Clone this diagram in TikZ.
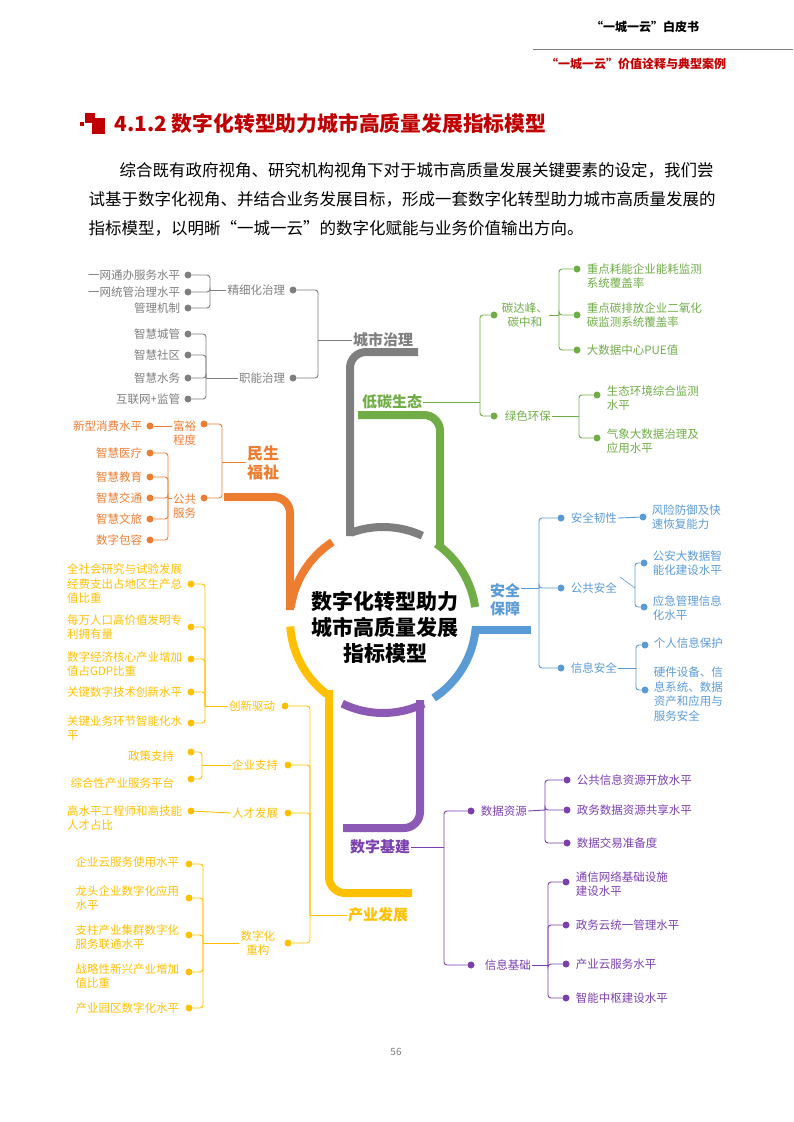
\documentclass[tikz,border=0pt]{standalone}
\usepackage{fontspec}
\setmainfont{Noto Sans CJK SC}
\usepackage{xcolor}
\usetikzlibrary{positioning}
\definecolor{cgray}{HTML}{7F7F7F}
\definecolor{cgreen}{HTML}{70AD47}
\definecolor{cblue}{HTML}{5B9BD5}
\definecolor{cpurple}{HTML}{7B3FAE}
\definecolor{cpurplearc}{HTML}{8C5AB4}
\definecolor{cyellow}{HTML}{FFC000}
\definecolor{corange}{HTML}{ED7D31}
\definecolor{cred}{HTML}{C00000}
\newcommand\leaffont{\fontsize{11.5}{14.5}\selectfont}
\newcommand\topicfont{\fontsize{15}{18}\selectfont\bfseries}
\tikzset{
	dot/.style={circle, fill, inner sep=0pt, minimum size=7pt},
	leaf/.style={inner sep=1pt, font=\leaffont, align=left},
	topic/.style={inner sep=1pt, font=\topicfont, align=center},
	branch/.style={line width=0.9pt, rounded corners=3pt},
	trunk/.style={line width=8pt},
}

\begin{document}
\begin{tikzpicture}[x=1pt, y=-1pt]
	\useasboundingbox (0,0) rectangle (793,1122);

	% header
	\node[font=\fontsize{12}{14}\selectfont\bfseries] (book) at (645,27) {“一城一云”白皮书};
	\coordinate (rulel) at (533,49);
	\coordinate (ruler) at (793,49);
	\draw[cgray, line width=1pt] (rulel) -- (ruler);
	\node[font=\fontsize{12}{14}\selectfont\bfseries, text=cred] (chap) at (636,64) {“一城一云”价值诠释与典型案例};

	% title
	\fill[cred] (92,118) rectangle (105,134);
	\fill[cred] (85,113) rectangle (95,123);
	\fill[cred] (80,122) rectangle (84,126);
	\node[font=\fontsize{20.8}{24}\selectfont\bfseries, text=cred, anchor=west] (title) at (111,124) {4.1.2 数字化转型助力城市高质量发展指标模型};

	\node[font=\fontsize{16.5}{20}\selectfont, anchor=west] (par1) at (116,170) {综合既有政府视角、研究机构视角下对于城市高质量发展关键要素的设定，我们尝};
	\node[font=\fontsize{16.5}{20}\selectfont, anchor=west] (par2) at (85,199) {试基于数字化视角、并结合业务发展目标，形成一套数字化转型助力城市高质量发展的};
	\node[font=\fontsize{16.5}{20}\selectfont, anchor=west] (par3) at (85,228) {指标模型，以明晰“一城一云”的数字化赋能与业务价值输出方向。};

	% hub and trunks
	\node[font=\fontsize{21}{26}\selectfont\bfseries, align=center] (hub) at (385,627) {数字化转型助力\\城市高质量发展\\指标模型};
	\coordinate (c) at (383,620);
	\draw[trunk, cgray] (c) ++(250:93) arc[start angle=250, end angle=295, radius=93];
	\draw[trunk, cgray, rounded corners=16pt] (350,536) -- (350,352) -- (418,352);
	\draw[trunk, cgreen] (c) ++(305:93) arc[start angle=305, end angle=352, radius=93];
	\draw[trunk, cgreen, rounded corners=16pt] (440,548) -- (440,415) -- (358,415);
	\draw[trunk, cblue] (c) ++(5:93) arc[start angle=5, end angle=57, radius=93];
	\draw[trunk, cblue] (472,630) -- (531,630);
	\draw[trunk, cpurplearc] (c) ++(64:93) arc[start angle=64, end angle=116, radius=93];
	\draw[trunk, cpurplearc, rounded corners=16pt] (420,700) -- (420,828) -- (343,828);
	\draw[trunk, cyellow] (c) ++(127:93) arc[start angle=127, end angle=176, radius=93];
	\draw[trunk, cyellow, rounded corners=16pt] (329,690) -- (329,893) -- (412,893);
	\draw[trunk, corange] (c) ++(188:93) arc[start angle=188, end angle=237, radius=93];
	\draw[trunk, corange, rounded corners=16pt] (290,610) -- (290,497) -- (224,497);

	% 城市治理
	\begin{scope}[cgray, text=cgray]
		\node[topic] (zl) at (383,340) {城市治理};
		\coordinate (zlb) at (318,340);
		\draw[branch] (zl.west) -- (zlb);
		\node[dot] (jx) at (293,290) {};
		\node[leaf, left=3pt of jx] (jxt) {精细化治理};
		\node[dot] (zn) at (293,378) {};
		\node[leaf, left=3pt of zn] (znt) {职能治理};
		\draw[branch] (zlb) |- (jx);
		\draw[branch] (zlb) |- (zn);
		\coordinate (jxb) at (210,290);
		\draw[branch] (jxt.west) -- (jxb);
		\foreach \y/\n/\t in {275/jx1/一网通办服务水平, 292/jx2/一网统管治理水平, 308/jx3/管理机制} {
			\node[dot] (\n) at (188,\y) {};
			\node[leaf, left=3pt of \n] {\t};
			\draw[branch] (jxb) |- (\n);
		}
		\coordinate (znb) at (206,378);
		\draw[branch] (znt.west) -- (znb);
		\foreach \y/\n/\t in {334/zn1/智慧城管, 355/zn2/智慧社区, 378/zn3/智慧水务, 399/zn4/互联网+监管} {
			\node[dot] (\n) at (188,\y) {};
			\node[leaf, left=3pt of \n] {\t};
			\draw[branch] (znb) |- (\n);
		}
	\end{scope}

	% 民生福祉
	\begin{scope}[corange, text=corange]
		\node[topic, font=\fontsize{16}{19}\selectfont\bfseries] (ms) at (263,463) {民生\\福祉};
		\coordinate (msb) at (222,462);
		\draw[branch] (ms.west |- msb) -- (msb);
		\node[dot] (fy) at (204,424) {};
		\node[leaf, align=center, left=3pt of fy, yshift=-9pt] (fyt) {富裕\\程度};
		\node[dot] (gg) at (204,498) {};
		\node[leaf, align=center, left=3pt of gg, yshift=-8pt] (ggt) {公共\\服务};
		\draw[branch] (msb) |- (fy);
		\draw[branch] (msb) |- (gg);
		\node[dot] (fy1) at (150,426) {};
		\node[leaf, left=3pt of fy1] {新型消费水平};
		\draw[branch] (fyt.west |- fy1) -- (fy1);
		\coordinate (ggb) at (168,498);
		\draw[branch] (ggt.west |- gg) -- (ggb);
		\foreach \y/\n/\t in {453/gg1/智慧医疗, 477/gg2/智慧教育, 498/gg3/智慧交通, 519/gg4/智慧文旅, 540/gg5/数字包容} {
			\node[dot] (\n) at (150,\y) {};
			\node[leaf, left=3pt of \n] {\t};
			\draw[branch] (ggb) |- (\n);
		}
	\end{scope}

	% 低碳生态
	\begin{scope}[cgreen, text=cgreen]
		\node[topic] (dt) at (392,402) {低碳生态};
		\coordinate (dtb) at (480,402);
		\draw[branch] (dt.east) -- (dtb);
		\node[dot] (tf) at (494,315) {};
		\node[leaf, align=center, right=3pt of tf] (tft) {碳达峰、\\碳中和};
		\node[dot] (lb) at (494,416) {};
		\node[leaf, right=6pt of lb] (lbt) {绿色环保};
		\draw[branch] (dtb) |- (tf);
		\draw[branch] (dtb) |- (lb);
		\coordinate (tfb) at (559,315);
		\draw[branch] (tft.east) -- (tfb);
		\foreach \y/\s/\n/\t in {269/-7/tf1/{重点耗能企业能耗监测\\系统覆盖率}, 315/0/tf2/{重点碳排放企业二氧化\\碳监测系统覆盖率}, 350/0/tf3/大数据中心PUE值} {
			\node[dot] (\n) at (577,\y) {};
			\node[leaf, right=5pt of \n, yshift=\s pt] {\t};
			\draw[branch] (tfb) |- (\n);
		}
		\coordinate (lbb) at (579,416);
		\draw[branch] (lbt.east) -- (lbb);
		\foreach \y/\s/\n/\t in {395/-3/lb1/{生态环境综合监测\\水平}, 438/-3/lb2/{气象大数据治理及\\应用水平}} {
			\node[dot] (\n) at (597,\y) {};
			\node[leaf, right=5pt of \n, yshift=\s pt] {\t};
			\draw[branch] (lbb) |- (\n);
		}
	\end{scope}

	% 安全保障
	\begin{scope}[cblue, text=cblue]
		\node[topic] (aq) at (505,600) {安全\\保障};
		\coordinate (aqb) at (539,588);
		\draw[branch] (aq.east |- aqb) -- (aqb);
		\node[dot] (rx) at (561,518) {};
		\node[leaf, right=5pt of rx] (rxt) {安全韧性};
		\node[dot] (gs) at (561,588) {};
		\node[leaf, right=5pt of gs] (gst) {公共安全};
		\node[dot] (xa) at (561,668) {};
		\node[leaf, right=5pt of xa] (xat) {信息安全};
		\draw[branch] (aqb) |- (rx);
		\draw[branch] (aqb) |- (gs);
		\draw[branch] (aqb) |- (xa);
		\node[dot] (rx1) at (643,517) {};
		\node[leaf, right=4pt of rx1] {风险防御及快\\速恢复能力};
		\draw[branch] (rxt.east) -- (rx1);
		\coordinate (gsb) at (635,588);
		\coordinate (gstick) at (620,577);
		\draw[line width=0.6pt] (gstick) -- (gsb);
		\foreach \y/\s/\n/\t in {563/0/gs1/{公安大数据智\\能化建设水平}, 607/-1/gs2/{应急管理信息\\化水平}} {
			\node[dot] (\n) at (644,\y) {};
			\node[leaf, right=4pt of \n, yshift=\s pt] {\t};
			\draw[branch] (gsb) |- (\n);
		}
		\coordinate (xab) at (636,668);
		\draw[branch] (xat.east) -- (xab);
		\foreach \y/\s/\n/\t in {645/2/xa1/个人信息保护, 690/-4/xa2/{硬件设备、信\\息系统、数据\\资产和应用与\\服务安全}} {
			\node[dot] (\n) at (645,\y) {};
			\node[leaf, right=4pt of \n, yshift=\s pt] {\t};
			\draw[branch] (xab) |- (\n);
		}
	\end{scope}

	% 数字基建
	\begin{scope}[cpurple, text=cpurple]
		\node[topic] (sj) at (380,847) {数字基建};
		\coordinate (sjb) at (444,847);
		\draw[branch] (sj.east) -- (sjb);
		\node[dot] (zy) at (471,811) {};
		\node[leaf, right=5pt of zy] (zyt) {数据资源};
		\node[dot] (jc) at (471,965) {};
		\node[leaf, right=9pt of jc] (jct) {信息基础};
		\draw[branch] (sjb) |- (zy);
		\draw[branch] (sjb) |- (jc);
		\coordinate (zyb) at (545,810);
		\draw[branch] (zyt.east) -- (zyb);
		\foreach \y/\n/\t in {780/zy1/公共信息资源开放水平, 810/zy2/政务数据资源共享水平, 843/zy3/数据交易准备度} {
			\node[dot] (\n) at (567,\y) {};
			\node[leaf, right=5pt of \n] {\t};
			\draw[branch] (zyb) |- (\n);
		}
		\coordinate (jcb) at (548,965);
		\draw[branch] (jct.east) -- (jcb);
		\foreach \y/\s/\n/\t in {882/-2/jc1/{通信网络基础设施\\建设水平}, 925/0/jc2/政务云统一管理水平, 964/0/jc3/产业云服务水平, 998/0/jc4/智能中枢建设水平} {
			\node[dot] (\n) at (566,\y) {};
			\node[leaf, right=5pt of \n, yshift=\s pt] {\t};
			\draw[branch] (jcb) |- (\n);
		}
	\end{scope}

	% 产业发展
	\begin{scope}[cyellow, text=cyellow]
		\node[topic] (cy) at (378,915) {产业发展};
		\coordinate (cyb) at (310,915);
		\draw[branch] (cy.west) -- (cyb);
		\node[dot] (cx) at (285,706) {};
		\node[leaf, left=5pt of cx] (cxt) {创新驱动};
		\node[dot] (qy) at (288,765) {};
		\node[leaf, left=5pt of qy] (qyt) {企业支持};
		\node[dot] (rc) at (288,813) {};
		\node[leaf, left=5pt of rc] (rct) {人才发展};
		\node[dot] (sz) at (288,943) {};
		\node[leaf, align=center, left=8pt of sz] (szt) {数字化\\重构};
		\foreach \n in {cx, qy, rc, sz} {
			\draw[branch] (cyb) |- (\n);
		}
		\coordinate (cxb) at (205,706);
		\draw[branch] (cxt.west) -- (cxb);
		\foreach \y/\s/\n/\t in {584/0/cx1/{全社会研究与试验发展\\经费支出占地区生产总\\值比重}, 627/0/cx2/{每万人口高价值发明专\\利拥有量}, 659/-5/cx3/{数字经济核心产业增加\\值占GDP比重}, 692/0/cx4/关键数字技术创新水平, 723/-5/cx5/{关键业务环节智能化水\\平}} {
			\node[dot] (\n) at (191,\y) {};
			\node[leaf, left=4pt of \n, yshift=\s pt] {\t};
			\draw[branch] (cxb) |- (\n);
		}
		\coordinate (qyb) at (202,765);
		\draw[branch] (qyt.west) -- (qyb);
		\foreach \y/\n/\t in {752/qy1/政策支持, 779/qy2/综合性产业服务平台} {
			\node[dot] (\n) at (191,\y) {};
			\node[leaf, left=12pt of \n, yshift=-4pt] {\t};
			\draw[branch] (qyb) |- (\n);
		}
		\node[dot] (rc1) at (191,811) {};
		\node[leaf, left=4pt of rc1, yshift=-7pt] {高水平工程师和高技能\\人才占比};
		\draw[branch] (rct.west) -- (rc1);
		\coordinate (szb) at (203,943);
		\draw[branch] (szt.west) -- (szb);
		\foreach \y/\s/\n/\t in {864/2/sz1/企业云服务使用水平, 898/0/sz2/{龙头企业数字化应用\\水平}, 935/-2/sz3/{支柱产业集群数字化\\服务联通水平}, 972/-4/sz4/{战略性新兴产业增加\\值比重}, 1008/0/sz5/产业园区数字化水平} {
			\node[dot] (\n) at (189,\y) {};
			\node[leaf, left=5pt of \n, yshift=\s pt] {\t};
			\draw[branch] (szb) |- (\n);
		}
	\end{scope}

	\node[font=\fontsize{10}{12}\selectfont, text=cgray] (page) at (396,1052) {56};
\end{tikzpicture}
\end{document}
